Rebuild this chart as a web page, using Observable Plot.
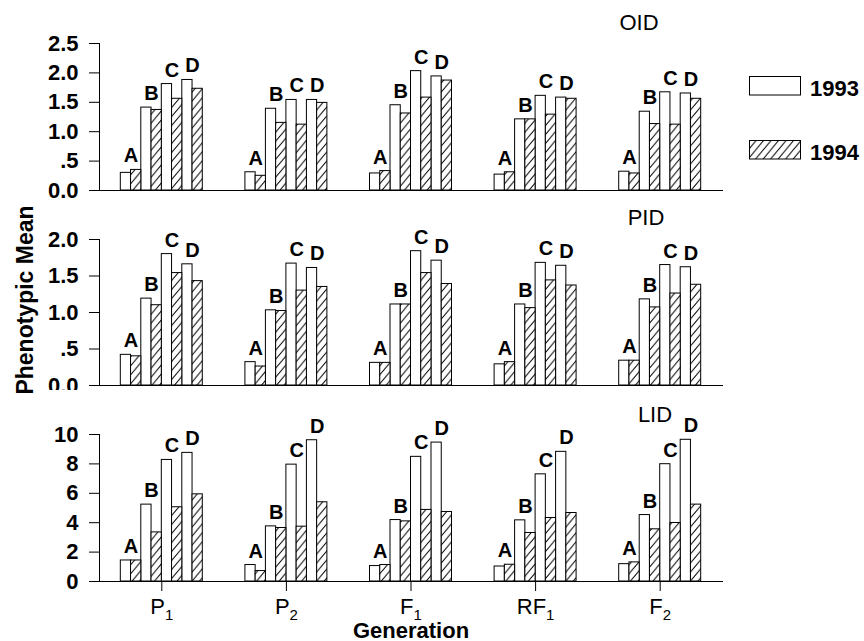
<!DOCTYPE html>
<html><head><meta charset="utf-8">
<script src="https://cdn.jsdelivr.net/npm/d3@7"></script>
<script src="https://cdn.jsdelivr.net/npm/@observablehq/plot@0.6"></script>
<style>
body{margin:0;background:#fff;font-family:"Liberation Sans",Arial,Helvetica,sans-serif;color:#000;}
#wrap{position:relative;width:864px;height:641px;overflow:hidden;background:#fff;}
.panel{position:absolute;left:0;}
.ttl{position:absolute;font-size:22px;line-height:22px;white-space:nowrap;transform:translateX(-50%);}
.leg{position:absolute;font-size:22px;line-height:22px;font-weight:bold;white-space:nowrap;}
.ylab{position:absolute;font-size:23px;line-height:23px;font-weight:bold;white-space:nowrap;transform:translate(-50%,-50%) rotate(-90deg);}
[aria-label="fx-axis label"] text{font-weight:bold;font-size:22px;}
</style></head><body>
<svg width="0" height="0" style="position:absolute">
 <defs>
  <pattern id="hatch94" patternUnits="userSpaceOnUse" width="7.5" height="9">
   <rect width="7.5" height="9" fill="white"/>
   <path d="M-1,1.2 L1,-1.2 M0,9 L7.5,0 M6.5,10.2 L8.5,7.8" stroke="black" stroke-width="1" fill="none"/>
  </pattern>
 </defs>
</svg>
<div id="wrap"></div>
<script>
// ---------- data ----------
const generations = ["P1", "P2", "F1", "RF1", "F2"];
const lines = ["A", "B", "C", "D"];
const years = ["1993", "1994"];
const panelNames = ["OID", "PID", "LID"];

// values ordered generation by generation, lines A..D inside each
const oid1993 = [0.30,1.41,1.81,1.88, 0.31,1.39,1.54,1.54, 0.29,1.45,2.03,1.94, 0.27,1.21,1.61,1.58, 0.32,1.34,1.67,1.65];
const oid1994 = [0.35,1.37,1.56,1.73, 0.25,1.15,1.12,1.49, 0.33,1.31,1.58,1.87, 0.31,1.21,1.29,1.56, 0.29,1.13,1.12,1.56];
const pid1993 = [0.42,1.19,1.80,1.66, 0.32,1.03,1.67,1.61, 0.31,1.11,1.84,1.71, 0.29,1.11,1.68,1.64, 0.34,1.18,1.65,1.62];
const pid1994 = [0.40,1.10,1.54,1.43, 0.26,1.02,1.30,1.35, 0.31,1.11,1.54,1.39, 0.32,1.06,1.44,1.37, 0.34,1.07,1.26,1.38];
const lid1993 = [1.43,5.23,8.27,8.75, 1.12,3.75,7.95,9.61, 1.05,4.18,8.48,9.45, 1.02,4.16,7.29,8.82, 1.18,4.52,7.98,9.64];
const lid1994 = [1.43,3.34,5.05,5.93, 0.71,3.64,3.73,5.39, 1.12,4.09,4.87,4.73, 1.14,3.30,4.32,4.66, 1.30,3.55,3.98,5.23];

const oidTicks = [0, 0.5, 1, 1.5, 2, 2.5];
const oidTickLabels = ["0.0", ".5", "1.0", "1.5", "2.0", "2.5"];
const pidTicks = [0, 0.5, 1, 1.5, 2];
const pidTickLabels = ["0.0", ".5", "1.0", "1.5", "2.0"];
const lidTicks = [0, 2, 4, 6, 8, 10];
const lidTickLabels = ["0", "2", "4", "6", "8", "10"];

const yLabel = "Phenotypic Mean";
const xLabel = "Generation";

// ---------- layout ----------
const W = 864, ML = 99, MR = 142;
const FX_PAD = 0.342;
const STEP = (W - ML - MR) / generations.length;
const GROUP_W = STEP * (1 - FX_PAD);
const OUTER = STEP * FX_PAD / 2;          // gap between frame edge and first group
const HALF = GROUP_W / lines.length / 2;  // one bar of a pair

function rowsOf(v93, v94) {
  const rows = [];
  generations.forEach((g, gi) => lines.forEach((l, li) => {
    const i = gi * lines.length + li;
    rows.push({gen: g, line: l, v93: v93[i], v94: v94[i], top: Math.max(v93[i], v94[i])});
  }));
  return rows;
}

function panel({v93, v94, domain, ticks, tickLabels, height, marginTop, marginBottom, showX}) {
  const rows = rowsOf(v93, v94);
  const marks = [
    Plot.barY(rows, {fx: "gen", x: "line", y: "v93", fill: "white", stroke: "black", strokeWidth: 1, insetLeft: 0, insetRight: HALF}),
    Plot.barY(rows, {fx: "gen", x: "line", y: "v94", fill: "url(#hatch94)", stroke: "black", strokeWidth: 1, insetLeft: HALF, insetRight: 0}),
    Plot.text(rows, {fx: "gen", x: "line", y: "top", text: "line", dy: -7.5, lineAnchor: "bottom", fontWeight: "bold", fontSize: 20}),
    Plot.frame({anchor: "left", facet: "super", insetLeft: -OUTER}),
    Plot.frame({anchor: "bottom", facet: "super", insetLeft: -OUTER, insetRight: -OUTER}),
    Plot.axisY({ticks, tickFormat: d => tickLabels[ticks.indexOf(d)], tickSize: 10, tickPadding: 11, label: null, fontSize: 22, fontWeight: "bold", dx: -OUTER})
  ];
  if (showX) marks.push(Plot.axisFx({anchor: "bottom", tickSize: 10, tickPadding: 7, fontSize: 22, label: xLabel, labelAnchor: "center", labelOffset: 56}));
  return Plot.plot({
    width: W, height, marginLeft: ML, marginRight: MR, marginTop, marginBottom,
    style: {fontFamily: "'Liberation Sans', Arial, sans-serif", color: "black", background: "white", overflow: "visible"},
    fx: {domain: generations, paddingInner: FX_PAD, paddingOuter: FX_PAD / 2, round: false, axis: showX ? undefined : null},
    x: {domain: lines, padding: 0, round: false, axis: null},
    y: {domain},
    marks
  });
}

const wrap = document.getElementById("wrap");
const specs = [
  {top: 0, v93: oid1993, v94: oid1994, domain: [0, 2.5], ticks: oidTicks, tickLabels: oidTickLabels, height: 200, marginTop: 43, marginBottom: 10, showX: false},
  {top: 200, v93: pid1993, v94: pid1994, domain: [0, 2], ticks: pidTicks, tickLabels: pidTickLabels, height: 190, marginTop: 39, marginBottom: 5, showX: false},
  {top: 390, v93: lid1993, v94: lid1994, domain: [0, 10], ticks: lidTicks, tickLabels: lidTickLabels, height: 251, marginTop: 44, marginBottom: 60, showX: true}
];
specs.forEach(s => {
  const svg = panel(s);
  svg.classList.add("panel");
  svg.style.top = s.top + "px";
  wrap.appendChild(svg);
  if (s.showX) {
    svg.querySelectorAll('[aria-label="fx-axis tick label"] text').forEach(el => {
      const t = el.textContent;
      el.textContent = t.slice(0, -1);
      const ts = document.createElementNS("http://www.w3.org/2000/svg", "tspan");
      ts.setAttribute("font-size", "15");
      ts.setAttribute("dy", "6");
      ts.textContent = t.slice(-1);
      el.appendChild(ts);
    });
  }
});

// panel titles
const titlePos = [{x: 639, top: 12}, {x: 646, top: 207}, {x: 655, top: 404}];
panelNames.forEach((n, i) => {
  const d = document.createElement("div");
  d.className = "ttl"; d.textContent = n;
  d.style.left = titlePos[i].x + "px"; d.style.top = titlePos[i].top + "px";
  wrap.appendChild(d);
});

// legend
const legTop = [76, 140];
years.forEach((y, i) => {
  const sw = document.createElementNS("http://www.w3.org/2000/svg", "svg");
  sw.setAttribute("width", 52); sw.setAttribute("height", 20);
  sw.style.position = "absolute"; sw.style.left = "749px"; sw.style.top = legTop[i] + "px";
  const r = document.createElementNS("http://www.w3.org/2000/svg", "rect");
  r.setAttribute("x", 0.5); r.setAttribute("y", 0.5); r.setAttribute("width", 51); r.setAttribute("height", 18.5);
  r.setAttribute("fill", i === 0 ? "white" : "url(#hatch94)"); r.setAttribute("stroke", "black");
  sw.appendChild(r);
  wrap.appendChild(sw);
  const t = document.createElement("div");
  t.className = "leg"; t.textContent = y;
  t.style.left = "810px"; t.style.top = (legTop[i] + 2) + "px";
  wrap.appendChild(t);
});

// shared y label
const yl = document.createElement("div");
yl.className = "ylab"; yl.textContent = yLabel;
yl.style.left = "25px"; yl.style.top = "300px";
wrap.appendChild(yl);
</script>
</body></html>
